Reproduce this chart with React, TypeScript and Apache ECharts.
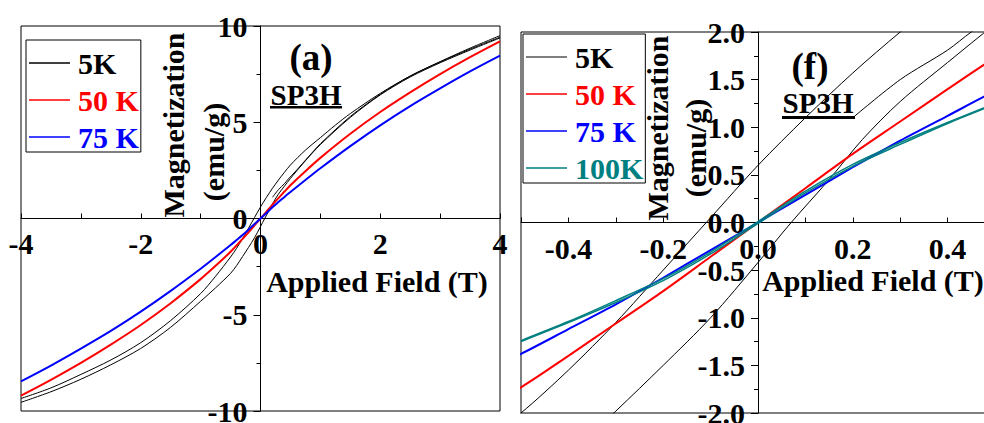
import React, { useEffect, useRef } from "react";
import * as echarts from "echarts";

// ---- Data (Applied field in T, magnetization in emu/g) ----
const H_5K_DESC = [-4, -3.5, -3, -2.5, -2, -1.5, -1, -0.75, -0.5, -0.4, -0.3, -0.2, -0.1, 0, 0.1, 0.2, 0.3, 0.4, 0.5, 0.75, 1, 1.25, 1.5, 2, 2.5, 3, 3.5, 4];
const M_5K_DESC = [-9.35, -8.8, -8.1, -7.35, -6.45, -5.3, -3.9, -3.0, -2.0, -1.55, -1.05, -0.5, 0.05, 0.6, 1.1, 1.57, 2.0, 2.4, 2.78, 3.55, 4.2, 4.85, 5.45, 6.5, 7.4, 8.15, 8.85, 9.5];

const H_5K_ASC = [-4, -3.5, -3, -2.5, -2, -1.5, -1, -0.75, -0.5, -0.4, -0.3, -0.2, -0.1, 0, 0.07, 0.15, 0.22, 0.3, 0.4, 0.5, 0.75, 1, 1.5, 2, 2.5, 3, 3.5, 4];
const M_5K_ASC = [-9.55, -9.0, -8.35, -7.6, -6.75, -5.65, -4.3, -3.6, -2.85, -2.45, -1.98, -1.5, -1.0, -0.42, 0, 0.45, 0.87, 1.27, 1.68, 2.08, 3.0, 3.84, 5.25, 6.42, 7.35, 8.09, 8.75, 9.38];

const H_5K_INIT = [0.2, 0.3, 0.4, 0.45, 0.6, 0.8, 1, 1.5, 2, 2.5, 3, 3.5, 4];
const M_5K_INIT = [1.1, 1.5, 1.81, 2.0, 2.5, 3.2, 3.88, 5.3, 6.45, 7.4, 8.13, 8.8, 9.42];

const H_50K_75K = [-4, -3.5, -3, -2.5, -2, -1.5, -1, -0.75, -0.5, -0.4, -0.3, -0.2, -0.1, 0, 0.1, 0.2, 0.3, 0.4, 0.5, 0.75, 1, 1.5, 2, 2.5, 3, 3.5, 4];
const M_50K = [-9.2, -8.38, -7.5, -6.55, -5.53, -4.4, -3.15, -2.46, -1.73, -1.4, -1.06, -0.72, -0.36, 0, 0.36, 0.72, 1.06, 1.4, 1.73, 2.46, 3.15, 4.4, 5.53, 6.55, 7.5, 8.38, 9.2];
const M_75K = [-8.46, -7.64, -6.76, -5.84, -4.84, -3.76, -2.61, -2.0, -1.38, -1.12, -0.86, -0.58, -0.29, 0, 0.29, 0.58, 0.86, 1.12, 1.38, 2.0, 2.61, 3.76, 4.84, 5.84, 6.76, 7.64, 8.46];

const H_100K = [-0.5, -0.4, -0.3, -0.2, -0.1, 0, 0.1, 0.2, 0.3, 0.4, 0.5];
const M_100K_DESC = [-1.24, -1.04, -0.82, -0.59, -0.31, 0.01, 0.33, 0.61, 0.84, 1.05, 1.25];
const M_100K_ASC = [-1.25, -1.05, -0.84, -0.61, -0.33, -0.01, 0.31, 0.59, 0.82, 1.04, 1.24];

const LEGEND_LEFT = ["5K", "50 K", "75 K"];
const LEGEND_RIGHT = ["5K", "50 K", "75 K", "100K"];
const LEGEND_COLORS: Record<string, string> = { "5K": "#000000", "50 K": "#ff0000", "75 K": "#0000ff", "100K": "#008080" };

const X_LABEL = "Applied Field (T)";
const Y_LABEL_1 = "Magnetization";
const Y_LABEL_2 = "(emu/g)";
const SAMPLE = "SP3H";

const FONT = "'Liberation Serif','Times New Roman',serif";

const zip = (h: number[], m: number[]) => h.map((x, i) => [x, m[i]]);

export default function App() {
  const ref = useRef<HTMLDivElement>(null);
  useEffect(() => {
    if (!ref.current) return;
    const chart = echarts.init(ref.current, undefined, { renderer: "svg" });

    const labelStyle = { fontFamily: FONT, fontWeight: "bold" as const, fontSize: 30, color: "#000" };
    const black = { color: "#000" };

    // grid geometry
    const G0 = { left: 21, top: 26, width: 479, height: 385 };
    const G1 = { left: 521, top: 32, width: 474, height: 381 };

    const xAxisBase = (grid: number, offset: number) => ({
      gridIndex: grid,
      type: "value" as const,
      position: "bottom" as const,
      offset,
      axisLine: { onZero: false, lineStyle: { color: "#000", width: 1 } },
      axisTick: { inside: true, length: 5, lineStyle: black },
      splitLine: { show: false },
      minorSplitLine: { show: false },
    });
    const yAxisBase = (grid: number, offset: number) => ({
      gridIndex: grid,
      type: "value" as const,
      position: "left" as const,
      offset,
      axisLine: { onZero: false, lineStyle: { color: "#000", width: 1 } },
      axisTick: { length: 7, lineStyle: black },
      minorTick: { show: true, splitNumber: 2, length: 4, lineStyle: black },
      splitLine: { show: false },
      minorSplitLine: { show: false },
    });

    const line = (name: string, data: number[][], color: string, width: number, g: number) => ({
      name,
      type: "line" as const,
      xAxisIndex: g,
      yAxisIndex: g,
      data,
      showSymbol: false,
      symbol: "none",
      smooth: 0.3,
      lineStyle: { color, width },
      itemStyle: { color },
      clip: true,
    });

    const text = (t: string, x: number, y: number, size: number, rot = 0) => ({
      type: "text",
      x,
      y,
      rotation: rot,
      style: {
        text: t,
        fontFamily: FONT,
        fontWeight: "bold",
        fontSize: size,
        fill: "#000",
        align: "center",
        verticalAlign: "middle",
        textAlign: "center",
        textVerticalAlign: "middle",
      },
    });

    const legend = (left: number, top: number, names: string[], legendColors: Record<string, string>) => ({
      left,
      top,
      orient: "vertical" as const,
      selectedMode: false,
      borderColor: "#000",
      borderWidth: 1,
      padding: [8, 2, 0, 3],
      itemGap: 7,
      itemWidth: 41,
      itemHeight: 1.5,
      icon: "rect",
      textStyle: { fontFamily: FONT, fontWeight: "bold", fontSize: 30, padding: [0, 0, 0, 3] },
      data: names.map((n) => ({ name: n, icon: "rect", itemStyle: { color: legendColors[n] }, textStyle: { color: LEGEND_COLORS[n] } })),
    });

    const series: any[] = [];
    for (const g of [0, 1]) {
      series.push(line("5K", zip(H_5K_DESC, M_5K_DESC), "#000", 1, g));
      series.push(line("5K", zip(H_5K_ASC, M_5K_ASC), "#000", 1, g));
      series.push(line("5K", zip(H_5K_INIT, M_5K_INIT), "#000", 1, g));
      series.push(line("50 K", zip(H_50K_75K, M_50K), "#ff0000", 2, g));
      series.push(line("75 K", zip(H_50K_75K, M_75K), "#0000ff", 2, g));
    }
    series.push(line("100K", zip(H_100K, M_100K_DESC), "#008080", 1.5, 1));
    series.push(line("100K", zip(H_100K, M_100K_ASC), "#008080", 1.5, 1));

    const gridCommon = { show: true, borderColor: "#000", borderWidth: 1, backgroundColor: "transparent", containLabel: false, outerBoundsMode: "none" };

    chart.setOption({
      animation: false,
      backgroundColor: "#fff",
      grid: [
        { ...G0, ...gridCommon },
        { ...G1, ...gridCommon },
      ],
      xAxis: [
        {
          ...xAxisBase(0, -G0.height / 2),
          min: -4,
          max: 4,
          interval: 2,
          minorTick: { show: true, splitNumber: 2, length: 5, lineStyle: black },
          axisLabel: { ...labelStyle, margin: 10 },
        },
        {
          ...xAxisBase(1, -G1.height / 2),
          min: -0.5,
          max: 0.5,
          interval: 0.1,
          minorTick: { show: false },
          axisLabel: {
            ...labelStyle,
            margin: 11,
            formatter: (v: number) => {
              const k = Math.round(v * 10);
              return k % 2 === 0 ? (k / 10).toFixed(1) : "";
            },
          },
        },
      ],
      yAxis: [
        {
          ...yAxisBase(0, -G0.width / 2),
          min: -10,
          max: 10,
          interval: 5,
          axisLabel: { ...labelStyle, margin: 13 },
        },
        {
          ...yAxisBase(1, -G1.width / 2),
          min: -2,
          max: 2,
          interval: 0.5,
          axisLabel: { ...labelStyle, margin: 13, formatter: (v: number) => v.toFixed(1) },
        },
      ],
      legend: [
        legend(26, 40, LEGEND_LEFT, LEGEND_COLORS),
        legend(523, 34, LEGEND_RIGHT, { ...LEGEND_COLORS, "5K": "#555555" }),
      ],
      graphic: [
        text(Y_LABEL_1, 173, 125, 30, Math.PI / 2),
        text(Y_LABEL_2, 213, 152, 30, Math.PI / 2),
        text(Y_LABEL_1, 657, 128, 30, Math.PI / 2),
        text(Y_LABEL_2, 695, 148, 30, Math.PI / 2),
        text(X_LABEL, 377, 281, 30),
        text(X_LABEL, 873, 280, 30),
        text("(a)", 311, 57, 37),
        text("(f)", 810, 66, 37),
        text(SAMPLE, 306, 95, 29),
        text(SAMPLE, 818, 103, 29),
        { type: "rect", shape: { x: 270, y: 106, width: 72, height: 2.5 }, style: { fill: "#000" } },
        { type: "rect", shape: { x: 782, y: 116, width: 73, height: 3 }, style: { fill: "#000" } },
      ],
      series,
    });
    return () => chart.dispose();
  }, []);
  return <div ref={ref} style={{ position: "fixed", left: 0, top: 0, width: 984, height: 423, background: "#fff" }} />;
}
